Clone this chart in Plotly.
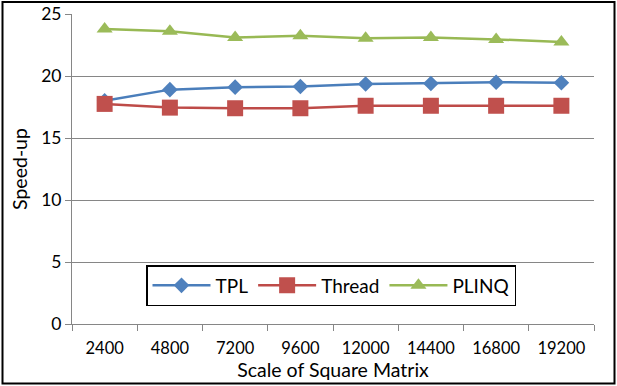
import plotly.graph_objects as go

categories = ["2400", "4800", "7200", "9600", "12000", "14400", "16800", "19200"]
tpl = [18.0, 18.9, 19.1, 19.15, 19.35, 19.4, 19.5, 19.45]
thread = [17.75, 17.45, 17.4, 17.4, 17.6, 17.6, 17.6, 17.6]
plinq = [23.8, 23.6, 23.1, 23.25, 23.05, 23.1, 22.95, 22.75]

W, H = 617, 386
ml, mr, mt, mb = 72, 23, 14, 62
FONT = "Lato"

fig = go.Figure()
fig.add_trace(go.Scatter(x=categories, y=tpl, name="TPL", mode="lines+markers",
                         line=dict(color="#4a7ebb", width=2.5),
                         marker=dict(symbol="diamond", size=12, color="#4f81bd",
                                     line=dict(width=0))))
fig.add_trace(go.Scatter(x=categories, y=thread, name="Thread", mode="lines+markers",
                         line=dict(color="#be4b48", width=2.5),
                         marker=dict(symbol="square", size=16, color="#c0504d",
                                     line=dict(width=0))))
fig.add_trace(go.Scatter(x=categories, y=plinq, name="PLINQ", mode="lines+markers",
                         line=dict(color="#98b954", width=2.5),
                         marker=dict(symbol="triangle-up", size=14, color="#9bbb59",
                                     line=dict(width=0))))

pw = W - ml - mr
ph = H - mt - mb
def px2x(p):
    return (p - ml) / pw
def py2y(p):
    return (H - mb - p) / ph

fig.add_shape(type="rect", xref="paper", yref="paper",
              x0=px2x(2.5), x1=px2x(614.5), y0=py2y(383.5), y1=py2y(2),
              line=dict(color="black", width=2), layer="above")

fig.update_layout(
    width=W, height=H,
    margin=dict(l=ml, r=mr, t=mt, b=mb, autoexpand=False),
    paper_bgcolor="white", plot_bgcolor="white",
    font=dict(family=FONT, color="black", size=16),
    showlegend=True,
    legend=dict(orientation="h", x=px2x(146), y=py2y(265), xanchor="left", yanchor="top",
                bordercolor="black", borderwidth=1.5, bgcolor="white",
                font=dict(family=FONT, size=19), itemwidth=58,
                tracegroupgap=0),
    xaxis=dict(type="category", tickson="boundaries", ticks="outside", ticklen=6,
               tickcolor="#868686", showline=True, linecolor="#868686", linewidth=1,
               showgrid=False, tickfont=dict(size=16.5), ticklabelstandoff=9,
               automargin=False,
               title=dict(text="Scale of Square Matrix", font=dict(size=19.5), standoff=2),
               range=[-0.5, 7.5]),
    yaxis=dict(range=[0, 25], dtick=5, ticks="outside", ticklen=6, tickcolor="#868686",
               showline=True, linecolor="#868686", linewidth=1, automargin=False,
               showgrid=True, gridcolor="#868686", gridwidth=1, zeroline=False,
               tickfont=dict(size=17.5),
               title=dict(text="Speed-up", font=dict(size=19.5), standoff=8)),
)

fig.write_html("out.html")
